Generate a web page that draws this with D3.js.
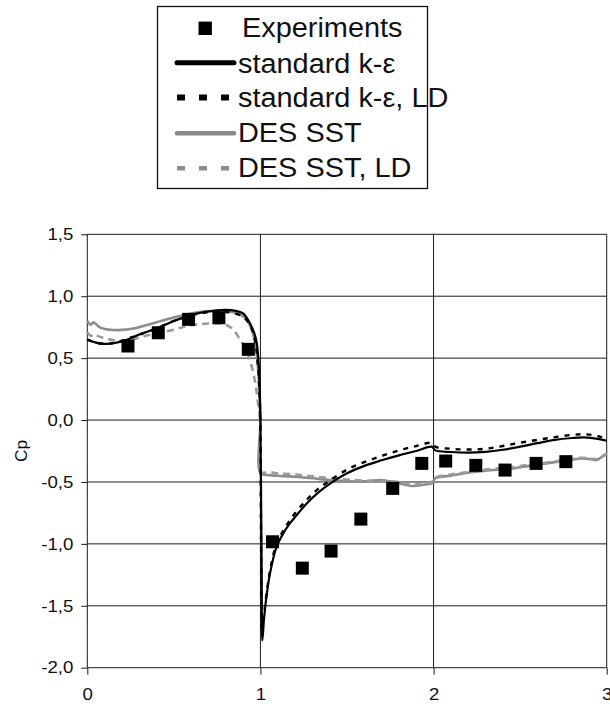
<!DOCTYPE html>
<html><head><meta charset="utf-8">
<script src="https://cdn.jsdelivr.net/npm/d3@7"></script>
<style>body{margin:0;background:#fff}svg{display:block}text{font-family:"Liberation Sans",Arial,sans-serif;fill:#111}</style>
</head><body>
<svg id="c" width="610" height="704"></svg>
<script>
const xTicks = [0, 1, 2, 3];
const xTickLabels = ["0", "1", "2", "3"];
const yTicks = [-2, -1.5, -1, -0.5, 0, 0.5, 1, 1.5];
const yTickLabels = ["-2,0", "-1,5", "-1,0", "-0,5", "0,0", "0,5", "1,0", "1,5"];
const yLabel = "Cp";
const seriesNames = ["Experiments", "standard k-ε", "standard k-ε, LD", "DES SST", "DES SST, LD"];

const expX = [0.235, 0.41, 0.585, 0.76, 0.93, 1.07, 1.242, 1.408, 1.58, 1.764, 1.932, 2.07, 2.244, 2.413, 2.592, 2.764];
const expY = [0.598, 0.705, 0.813, 0.826, 0.571, -0.983, -1.196, -1.058, -0.80, -0.552, -0.35, -0.331, -0.366, -0.404, -0.35, -0.336];

const keX = [0,0.05,0.1,0.15,0.2,0.25,0.3,0.35,0.4,0.45,0.5,0.55,0.6,0.65,0.7,0.75,0.8,0.85,0.9,0.94,0.965,0.979,0.99,0.996,1.0,1.003,1.007,1.011,1.02,1.03,1.055,1.094,1.13,1.17,1.22,1.27,1.33,1.4,1.5,1.6,1.7,1.8,1.9,1.99,2.01,2.1,2.2,2.3,2.4,2.5,2.6,2.7,2.8,2.87,2.95,3.0];
const keY = [0.65,0.625,0.615,0.62,0.635,0.66,0.69,0.715,0.74,0.77,0.80,0.825,0.85,0.865,0.878,0.886,0.889,0.884,0.862,0.78,0.70,0.62,0.45,0.25,0.0,-0.5,-1.2,-1.78,-1.62,-1.48,-1.24,-1.02,-0.92,-0.835,-0.75,-0.67,-0.59,-0.515,-0.43,-0.37,-0.325,-0.285,-0.25,-0.215,-0.245,-0.258,-0.263,-0.257,-0.24,-0.215,-0.187,-0.16,-0.145,-0.14,-0.152,-0.167];

const keLDX = [0,0.05,0.1,0.15,0.2,0.25,0.3,0.35,0.4,0.45,0.5,0.55,0.6,0.65,0.7,0.75,0.8,0.85,0.9,0.93,0.955,0.972,0.985,0.995,1.0,1.002,1.005,1.009,1.02,1.03,1.055,1.094,1.17,1.27,1.33,1.4,1.5,1.6,1.7,1.8,1.9,1.99,2.01,2.1,2.2,2.3,2.4,2.5,2.6,2.7,2.8,2.87,2.95,3.0];
const keLDY = [0.65,0.625,0.615,0.622,0.64,0.665,0.69,0.715,0.74,0.77,0.80,0.825,0.845,0.86,0.87,0.875,0.873,0.862,0.835,0.79,0.72,0.62,0.45,0.2,-0.1,-0.6,-1.2,-1.72,-1.58,-1.46,-1.22,-1.0,-0.81,-0.64,-0.56,-0.49,-0.40,-0.34,-0.29,-0.245,-0.21,-0.185,-0.215,-0.232,-0.238,-0.232,-0.21,-0.183,-0.16,-0.138,-0.12,-0.115,-0.13,-0.156];

const sstX = [0,0.02,0.035,0.05,0.07,0.1,0.15,0.2,0.25,0.3,0.35,0.4,0.45,0.5,0.55,0.6,0.65,0.7,0.75,0.8,0.85,0.88,0.92,0.95,0.97,0.982,0.993,1.0,1.001,1.05,1.1,1.2,1.3,1.4,1.5,1.6,1.69,1.75,1.8,1.88,1.95,1.99,2.01,2.1,2.17,2.3,2.46,2.55,2.65,2.75,2.85,2.9,2.94,2.97,3.0];
const sstY = [0.80,0.77,0.79,0.775,0.75,0.735,0.727,0.728,0.735,0.75,0.77,0.79,0.81,0.828,0.845,0.86,0.872,0.878,0.882,0.878,0.868,0.855,0.81,0.727,0.62,0.485,0.25,0.0,-0.43,-0.445,-0.45,-0.458,-0.47,-0.485,-0.495,-0.495,-0.485,-0.495,-0.51,-0.533,-0.52,-0.51,-0.47,-0.45,-0.431,-0.41,-0.39,-0.37,-0.35,-0.33,-0.31,-0.315,-0.323,-0.3,-0.275];

const sstLDX = [0,0.02,0.04,0.06,0.09,0.12,0.15,0.2,0.25,0.3,0.35,0.4,0.45,0.5,0.55,0.6,0.65,0.7,0.75,0.8,0.84,0.88,0.92,0.95,0.97,0.985,1.0,1.001,1.05,1.1,1.2,1.3,1.4,1.5,1.6,1.7,1.8,1.88,1.95,1.99,2.01,2.1,2.2,2.3,2.46,2.55,2.65,2.75,2.85,2.9,2.94,2.97,3.0];
const sstLDY = [0.71,0.68,0.695,0.68,0.665,0.655,0.645,0.64,0.648,0.665,0.685,0.70,0.715,0.73,0.75,0.765,0.775,0.78,0.782,0.77,0.735,0.655,0.56,0.43,0.3,0.15,-0.05,-0.42,-0.42,-0.43,-0.44,-0.455,-0.47,-0.48,-0.49,-0.49,-0.5,-0.52,-0.51,-0.5,-0.465,-0.44,-0.42,-0.4,-0.38,-0.36,-0.345,-0.325,-0.305,-0.31,-0.315,-0.295,-0.27];

const svg = d3.select("#c");
const x = d3.scaleLinear().domain([0, 3]).range([87.3, 606.7]);
const y = d3.scaleLinear().domain([-2, 1.5]).range([667.7, 234.3]);
const gridColor = "#1a1a1a";
const tickFont = 16.5, tickStretch = 1.13;

// horizontal gridlines
svg.append("g").selectAll("line").data(yTicks).join("line")
  .attr("x1", x(0)).attr("x2", x(3)).attr("y1", d => y(d)).attr("y2", d => y(d))
  .attr("stroke", gridColor).attr("stroke-width", 1);
// vertical gridlines
svg.append("g").selectAll("line").data(xTicks).join("line")
  .attr("y1", y(1.5)).attr("y2", y(-2)).attr("x1", d => x(d)).attr("x2", d => x(d))
  .attr("stroke", gridColor).attr("stroke-width", 1);

// axes
const yAxis = d3.axisLeft(y).tickValues(yTicks).tickSize(6).tickPadding(8)
  .tickFormat((d, i) => yTickLabels[i]);
const gy = svg.append("g").attr("transform", `translate(${x(0)},0)`).call(yAxis);
gy.select(".domain").remove();
gy.selectAll("line").attr("stroke", gridColor);
gy.selectAll("text").attr("font-size", tickFont).attr("font-family", "Liberation Sans, Arial, sans-serif").attr("fill", "#111")
  .attr("x", -14 / tickStretch).attr("transform", `scale(${tickStretch},1)`);

const xAxis = d3.axisBottom(x).tickValues(xTicks).tickSize(7).tickPadding(14)
  .tickFormat((d, i) => xTickLabels[i]);
const gx = svg.append("g").attr("transform", `translate(0,${y(-2)})`).call(xAxis);
gx.select(".domain").remove();
gx.selectAll("line").attr("stroke", gridColor);
gx.selectAll("text").attr("font-size", tickFont).attr("font-family", "Liberation Sans, Arial, sans-serif").attr("fill", "#111")
  .attr("transform", `scale(${tickStretch},1)`);

svg.append("text").attr("transform", `translate(27,${(y(1.5) + y(-2)) / 2}) rotate(-90) scale(1.05,1)`)
  .attr("text-anchor", "middle").attr("font-size", 16.5).text(yLabel);

// curves
const line = d3.line().x(d => x(d[0])).y(d => y(d[1])).curve(d3.curveCatmullRom.alpha(0.5));
const zip = (a, b) => a.map((v, i) => [v, b[i]]);
const curves = [
  {pts: zip(sstX, sstY), color: "#8c8c8c", w: 2.6, dash: null},
  {pts: zip(sstLDX, sstLDY), color: "#9a9a9a", w: 2.6, dash: "7,5"},
  {pts: zip(keX, keY), color: "#000", w: 2.2, dash: null},
  {pts: zip(keLDX, keLDY), color: "#000", w: 2.4, dash: "5,6"},
];
svg.append("g").selectAll("path").data(curves).join("path")
  .attr("d", d => line(d.pts)).attr("fill", "none")
  .attr("stroke", d => d.color).attr("stroke-width", d => d.w)
  .attr("stroke-dasharray", d => d.dash);

// experiments
const sq = 13;
svg.append("g").selectAll("rect").data(zip(expX, expY)).join("rect")
  .attr("x", d => x(d[0]) - sq / 2).attr("y", d => y(d[1]) - sq / 2)
  .attr("width", sq).attr("height", sq).attr("fill", "#000");

// legend
const lg = svg.append("g");
lg.append("rect").attr("x", 157.5).attr("y", 6.5).attr("width", 270).attr("height", 182)
  .attr("fill", "#fff").attr("stroke", "#111").attr("stroke-width", 1.3);
const legRows = [
  {type: "sq", ly: 28.3, ty: 37.3, tx: 242},
  {type: "line", color: "#000", w: 5, dash: null, ly: 62.8, ty: 72.5, tx: 238},
  {type: "line", color: "#000", w: 6, dash: "8,14", ly: 97.5, ty: 107.3, tx: 238},
  {type: "line", color: "#888", w: 4.5, dash: null, ly: 133.3, ty: 142, tx: 238},
  {type: "line", color: "#8c8c8c", w: 4.6, dash: "8,14", ly: 168.3, ty: 176.7, tx: 238},
];
legRows.forEach((r, i) => {
  if (r.type === "sq") {
    lg.append("rect").attr("x", 198.5).attr("y", r.ly - 6.7).attr("width", 13.4).attr("height", 13.4).attr("fill", "#000");
  } else {
    lg.append("line").attr("x1", 177).attr("x2", 234).attr("y1", r.ly).attr("y2", r.ly)
      .attr("stroke", r.color).attr("stroke-width", r.w)
      .attr("stroke-linecap", r.dash ? "butt" : "round")
      .attr("stroke-dasharray", r.dash);
  }
  lg.append("text").attr("transform", `translate(${r.tx},${r.ty}) scale(1.07,1)`)
    .attr("font-size", 27).text(seriesNames[i]);
});
</script>
</body></html>
